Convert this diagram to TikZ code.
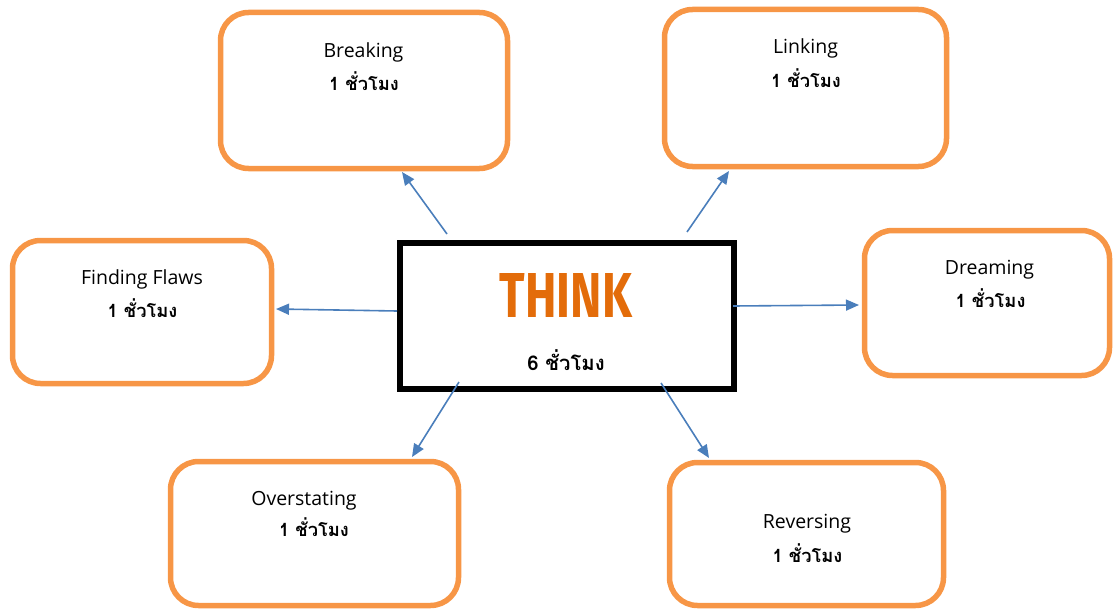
\documentclass[tikz,border=0pt]{standalone}
\usepackage{fontspec}
\setmainfont{Open Sans}
\newfontfamily\thaifont[Script=Thai]{Loma}
\newfontfamily\thinkfont{Fira Sans}
\usetikzlibrary{arrows.meta}
\definecolor{boxorange}{HTML}{F79646}
\definecolor{thinkorange}{HTML}{E36C0A}
\definecolor{arrowblue}{HTML}{4A7EBB}
\tikzset{
  topicbox/.style={draw=boxorange, line width=5.5pt, rounded corners=28pt, rectangle, inner sep=0pt, outer sep=0pt},
  centerbox/.style={draw=black, line width=6pt, rectangle, inner sep=0pt, outer sep=0pt},
  entext/.style={anchor=base, inner sep=0pt, font=\fontsize{19.5}{22}\selectfont},
  thtext/.style={anchor=base, inner sep=0pt, font=\thaifont\bfseries\fontsize{18.3}{21}\selectfont},
  link/.style={draw=arrowblue, line width=1.6pt, -{Triangle[length=13pt,width=11pt]}}
}
\begin{document}
\begin{tikzpicture}[x=1pt,y=-1pt]
\useasboundingbox (0,0) rectangle (1113,610);
% boxes
\node[topicbox, minimum width=287pt, minimum height=156pt] (brk) at (364,90.5) {};
\node[topicbox, minimum width=282pt, minimum height=157pt] (lnk) at (805.5,88) {};
\node[topicbox, minimum width=259pt, minimum height=143pt] (ffl) at (142,312) {};
\node[topicbox, minimum width=245pt, minimum height=145pt] (drm) at (987,303) {};
\node[topicbox, minimum width=288pt, minimum height=144pt] (ovs) at (314.5,533.5) {};
\node[topicbox, minimum width=274pt, minimum height=143pt] (rev) at (806.5,534) {};
\node[centerbox, minimum width=334pt, minimum height=146pt] (think) at (567,316) {};
% texts
\node[entext] (brkt) at (363.5,58) {Breaking};
\node[thtext] (brkh) at (364,90) {1 ชั่วโมง};
\node[entext] (lnkt) at (805.5,54) {Linking};
\node[thtext] (lnkh) at (806,87) {1 ชั่วโมง};
\node[entext] (fflt) at (142,284) {Finding Flaws};
\node[thtext] (fflh) at (142.5,317) {1 ชั่วโมง};
\node[entext] (drmt) at (989.5,274) {Dreaming};
\node[thtext] (drmh) at (990.5,307) {1 ชั่วโมง};
\node[entext] (ovst) at (304,505) {Overstating};
\node[thtext] (ovsh) at (314,536) {1 ชั่วโมง};
\node[entext] (revt) at (807,528) {Reversing};
\node[thtext] (revh) at (807.5,562) {1 ชั่วโมง};
\node[anchor=base, inner sep=0pt, text=thinkorange] (thinkt) at (566,317) {\resizebox{132pt}{44pt}{\thinkfont\bfseries THINK}};
\node[anchor=base, inner sep=0pt, font=\thaifont\bfseries\fontsize{20.3}{23}\selectfont] (thinkh) at (566,370) {6 ชั่วโมง};
% arrow ends
\coordinate (s1) at (447,234); \coordinate (e1) at (402,172);
\coordinate (s2) at (687,232); \coordinate (e2) at (729,171);
\coordinate (s3) at (397,311); \coordinate (e3) at (276,309);
\coordinate (s4) at (733,306); \coordinate (e4) at (859,305);
\coordinate (s5) at (459,382); \coordinate (e5) at (412,457);
\coordinate (s6) at (661,383); \coordinate (e6) at (709,458);
\draw[link] (s1) -- (e1);
\draw[link] (s2) -- (e2);
\draw[link] (s3) -- (e3);
\draw[link] (s4) -- (e4);
\draw[link] (s5) -- (e5);
\draw[link] (s6) -- (e6);
\end{tikzpicture}
\end{document}
